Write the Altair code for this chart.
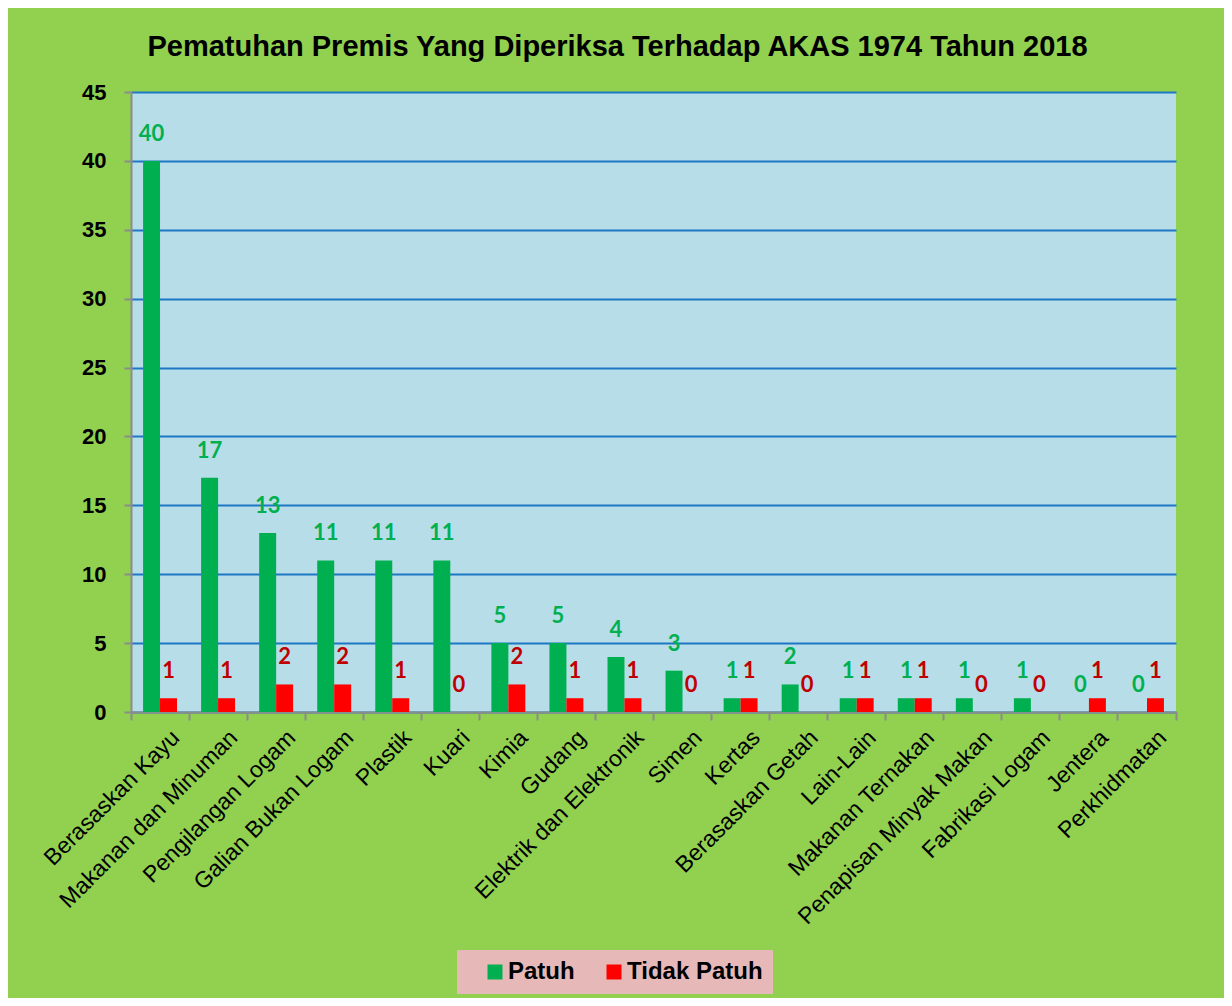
import altair as alt
import pandas as pd

categories = ["Berasaskan Kayu", "Makanan dan Minuman", "Pengilangan Logam", "Galian Bukan Logam",
              "Plastik", "Kuari", "Kimia", "Gudang", "Elektrik dan Elektronik", "Simen", "Kertas",
              "Berasaskan Getah", "Lain-Lain", "Makanan Ternakan", "Penapisan Minyak Makan",
              "Fabrikasi Logam", "Jentera", "Perkhidmatan"]
patuh = [40, 17, 13, 11, 11, 11, 5, 5, 4, 3, 1, 2, 1, 1, 1, 1, 0, 0]
tidak_patuh = [1, 1, 2, 2, 1, 0, 2, 1, 1, 0, 1, 0, 1, 1, 0, 0, 1, 1]
series = ["Patuh", "Tidak Patuh"]
y_ticks = [0, 5, 10, 15, 20, 25, 30, 35, 40, 45]

rows = []
for c, p, t in zip(categories, patuh, tidak_patuh):
    rows.append({"cat": c, "series": series[0], "value": p})
    rows.append({"cat": c, "series": series[1], "value": t})
df = pd.DataFrame(rows)

ARIAL = "Liberation Sans, Arial"

x_enc = alt.X("cat:N", sort=categories,
              scale=alt.Scale(paddingInner=0, paddingOuter=0),
              axis=alt.Axis(title=None, labelAngle=-45, labelFont=ARIAL, labelFontSize=23,
                            labelColor="black", labelLimit=400, bandPosition=1, tickExtra=True,
                            labelOffset=8, labelPadding=6, tickSize=8, tickColor="#8C8C8C",
                            tickWidth=2, domainColor="#8C8C8C", domainWidth=2, grid=False))
y_enc = alt.Y("value:Q", scale=alt.Scale(domain=[0, 45], nice=False),
              axis=alt.Axis(title=None, values=y_ticks, labelFont=ARIAL, labelFontSize=22,
                            labelFontWeight="bold", labelColor="black", labelPadding=18,
                            tickSize=7, tickColor="#8C8C8C", tickWidth=2,
                            domainColor="#8C8C8C", domainWidth=2,
                            gridColor="#1E77C4", gridWidth=2))
xo_enc = alt.XOffset("series:N", sort=series, scale=alt.Scale(paddingInner=0, paddingOuter=0.71))

base = alt.Chart(df)

bars = base.mark_bar().encode(
    x=x_enc, y=y_enc, xOffset=xo_enc,
    color=alt.Color("series:N", sort=series,
                    scale=alt.Scale(domain=series, range=["#00B050", "#FF0000"]),
                    legend=alt.Legend(title=None, orient="none", legendX=326, legendY=858,
                                      direction="horizontal", fillColor="#E6B9B8",
                                      padding=10, symbolType="square", symbolSize=225,
                                      symbolStrokeWidth=0, symbolOffset=16, labelOffset=1,
                                      columnPadding=11, labelFont=ARIAL, labelFontSize=24,
                                      labelFontWeight="bold", labelColor="black",
                                      labelExpr="datum.label == 'Tidak Patuh' ? datum.label + '  ' : datum.label")),
)

labels = base.mark_text(font="Lato", fontSize=22, fontWeight="bold", baseline="middle", dy=-27).encode(
    x=alt.X("cat:N", sort=categories), y="value:Q", xOffset=alt.XOffset("series:N", sort=series),
    text="value:Q",
    color=alt.condition(alt.datum.series == "Patuh", alt.value("#00B050"), alt.value("#C00000")),
)

chart = alt.layer(bars, labels).properties(
    width=1045, height=620,
    autosize=alt.AutoSizeParams(type="none"),
    padding={"left": 123, "top": 84, "right": 48, "bottom": 286},
    title=alt.TitleParams("Pematuhan Premis Yang Diperiksa Terhadap AKAS 1974 Tahun 2018",
                          font=ARIAL, fontSize=29, fontWeight="bold", color="black",
                          anchor="middle", dx=-36, offset=19),
).configure(background="#92D050").configure_view(stroke=None, fill="#B7DEE8")

chart.save("out.html", embed_options={"renderer": "svg", "actions": False})
